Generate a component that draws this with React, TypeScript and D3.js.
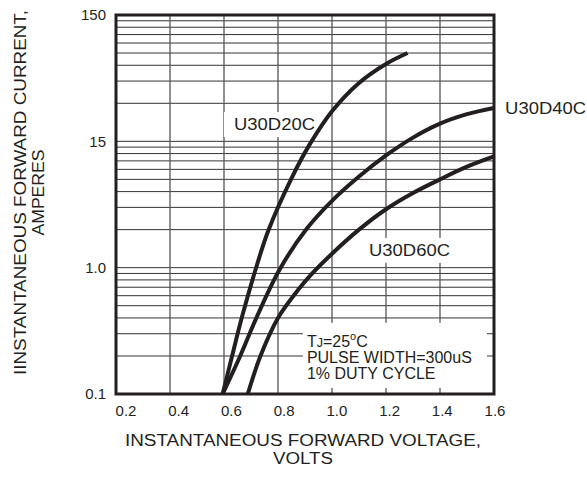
import { useEffect, useRef } from 'react';
import * as d3 from 'd3';

const WIDTH = 587;
const HEIGHT = 483;
const INK = '#231f20';
const FONT = '"Liberation Sans", Arial, Helvetica, sans-serif';

// axis ticks
const xTicks = [0.2, 0.4, 0.6, 0.8, 1.0, 1.2, 1.4, 1.6];
const yTicks = [0.1, 1, 10, 100];
const yTickLabels = ['0.1', '1.0', '15', '150'];

// curves (volts / amperes)
const u30d20cVolts = [0.595, 0.63, 0.667, 0.722, 0.765, 0.85, 0.918, 1.0, 1.1, 1.2, 1.28];
const u30d20cAmps = [0.1, 0.2, 0.41, 1.05, 1.99, 5.1, 9.5, 17.3, 29, 41, 50];

const u30d40cVolts = [0.595, 0.66, 0.722, 0.805, 0.907, 1.0, 1.1, 1.2, 1.3, 1.4, 1.5, 1.6];
const u30d40cAmps = [0.1, 0.2, 0.41, 0.96, 2.04, 3.38, 5.26, 7.73, 10.7, 13.8, 16.4, 18.4];

const u30d60cVolts = [0.688, 0.735, 0.8, 0.88, 0.92, 1.0, 1.1, 1.2, 1.3, 1.4, 1.5, 1.6];
const u30d60cAmps = [0.1, 0.2, 0.4, 0.69, 0.87, 1.29, 2.0, 2.9, 3.9, 5.0, 6.3, 7.6];

const seriesNames = ['U30D20C', 'U30D40C', 'U30D60C'];
const seriesVolts = [u30d20cVolts, u30d40cVolts, u30d60cVolts];
const seriesAmps = [u30d20cAmps, u30d40cAmps, u30d60cAmps];

// label anchors in data units (left / baseline)
const labelVolts = [0.637, 1.641, 1.137];
const labelAmps = [12.3, 16.4, 1.24];
const labelBoxed = [true, false, true];

const noteLines = ['PULSE WIDTH=300uS', '1% DUTY CYCLE'];
const noteVolts = 0.907;
const noteAmps = 0.236;

export default function App() {
  const svgRef = useRef<SVGSVGElement>(null);

  useEffect(() => {
    if (!svgRef.current) return;
    const svg = d3.select(svgRef.current);
    svg.selectAll('*').remove();

    const margin = { top: 15, right: 93, bottom: 89, left: 116 };
    const x0 = margin.left;
    const x1 = WIDTH - margin.right;
    const y0 = HEIGHT - margin.bottom;
    const y1 = margin.top;

    const x = d3.scaleLinear().domain([0.2, 1.6]).range([x0, x1]);
    const y = d3.scaleLog().domain([0.1, 100]).range([y0, y1]);
    // tick labels in the sheet drift a little right of their grid lines
    const xLabel = x.copy().range([x0 + 10, x1 + 1]);

    const gGrid = svg.append('g');
    const gBoxes = svg.append('g');
    const gCurves = svg.append('g');
    const gText = svg.append('g').attr('font-family', FONT).attr('fill', INK);

    // horizontal log grid
    y.ticks()
      .filter((v) => v > 0.1 && v < 100)
      .forEach((v) => {
        gGrid.append('line')
          .attr('x1', x0).attr('x2', x1)
          .attr('y1', y(v)).attr('y2', y(v))
          .attr('stroke', '#333').attr('stroke-width', 1);
      });

    // vertical grid
    xTicks.slice(1, -1).forEach((v) => {
      gGrid.append('line')
        .attr('x1', x(v)).attr('x2', x(v))
        .attr('y1', y1).attr('y2', y0)
        .attr('stroke', '#555').attr('stroke-width', 1.3);
    });

    // curves
    svg.append('defs').append('clipPath').attr('id', 'plot-clip')
      .append('rect').attr('x', x0).attr('y', y1).attr('width', x1 - x0).attr('height', y0 - y1);

    const line = d3.line<[number, number]>()
      .x((d) => x(d[0]))
      .y((d) => y(d[1]))
      .curve(d3.curveCatmullRom.alpha(0.5));

    seriesVolts.forEach((volts, i) => {
      const pts = volts.map((v, k) => [v, seriesAmps[i][k]] as [number, number]);
      gCurves.append('path')
        .attr('d', line(pts))
        .attr('fill', 'none')
        .attr('stroke', INK)
        .attr('stroke-width', 4)
        .attr('clip-path', 'url(#plot-clip)');
    });

    // frame
    svg.append('rect')
      .attr('x', x0).attr('y', y1)
      .attr('width', x1 - x0).attr('height', y0 - y1)
      .attr('fill', 'none').attr('stroke', INK).attr('stroke-width', 3);

    // wide sheet lettering: smaller size stretched to the measured width
    const wide = (sel: any, len: number) =>
      sel.attr('textLength', len).attr('lengthAdjust', 'spacingAndGlyphs');

    // curve labels with white backing where they sit on the grid
    seriesNames.forEach((name, i) => {
      const t = gText.append('text')
        .attr('x', x(labelVolts[i]))
        .attr('y', y(labelAmps[i]))
        .attr('font-size', 17)
        .text(name);
      wide(t, 81);
      if (labelBoxed[i]) {
        const b = (t.node() as SVGTextElement).getBBox();
        gBoxes.append('rect')
          .attr('x', b.x - 10).attr('y', b.y - 3)
          .attr('width', b.width + 20).attr('height', b.height + 6)
          .attr('fill', '#fff');
      }
    });

    // test conditions note
    const gNote = gText.append('g').attr('font-size', 16);
    const nx = x(noteVolts);
    const ny = y(noteAmps);
    const first = gNote.append('text').attr('x', nx).attr('y', ny);
    first.append('tspan').text('T');
    first.append('tspan').attr('font-size', 12.5).text('J');
    first.append('tspan').text('=25');
    first.append('tspan').attr('font-size', 11).attr('dy', -7).text('o');
    first.append('tspan').attr('dy', 7).text('C');
    noteLines.forEach((s, k) => {
      gNote.append('text').attr('x', nx).attr('y', ny + 16 * (k + 1)).text(s);
    });
    const nb = (gNote.node() as SVGGElement).getBBox();
    gBoxes.append('rect')
      .attr('x', nb.x - 4).attr('y', nb.y - 7)
      .attr('width', x1 - 7 - (nb.x - 4))
      .attr('height', y0 - 6 - (nb.y - 7))
      .attr('fill', '#fff');

    // x tick labels
    xTicks.forEach((v) => {
      gText.append('text')
        .attr('x', xLabel(v))
        .attr('y', y0 + 22)
        .attr('text-anchor', 'middle')
        .attr('font-size', 15)
        .text(d3.format('.1f')(v));
    });

    // y tick labels
    yTicks.forEach((v, k) => {
      gText.append('text')
        .attr('x', x0 - 10)
        .attr('y', y(v))
        .attr('dy', '0.35em')
        .attr('text-anchor', 'end')
        .attr('font-size', 15)
        .text(yTickLabels[k]);
    });

    // axis titles
    const cx = (x0 + x1) / 2 - 2;
    wide(gText.append('text')
      .attr('x', cx).attr('y', y0 + 52)
      .attr('text-anchor', 'middle').attr('font-size', 16)
      .text('INSTANTANEOUS FORWARD VOLTAGE,'), 356);
    wide(gText.append('text')
      .attr('x', cx).attr('y', y0 + 70)
      .attr('text-anchor', 'middle').attr('font-size', 16)
      .text('VOLTS'), 60);

    const cy = (y0 + y1) / 2 - 12;
    wide(gText.append('text')
      .attr('transform', `translate(26,${cy}) rotate(-90)`)
      .attr('text-anchor', 'middle').attr('font-size', 16)
      .text('IINSTANTANEOUS FORWARD CURRENT,'), 365);
    wide(gText.append('text')
      .attr('transform', `translate(44,${cy}) rotate(-90)`)
      .attr('text-anchor', 'middle').attr('font-size', 16)
      .text('AMPERES'), 86);
  }, []);

  return (
    <div style={{ position: 'absolute', left: 0, top: 0 }}>
      <svg ref={svgRef} width={WIDTH} height={HEIGHT} style={{ display: 'block', background: '#fff' }} />
    </div>
  );
}
